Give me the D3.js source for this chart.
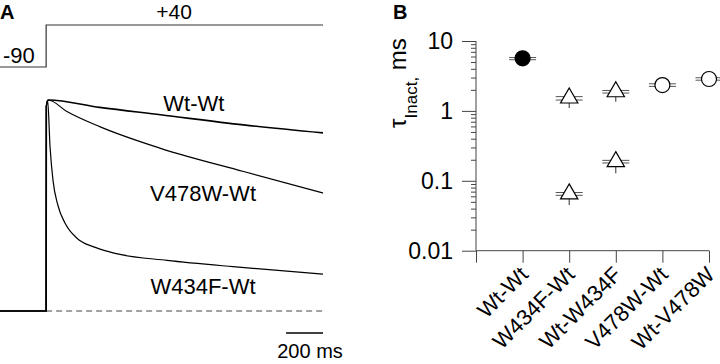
<!DOCTYPE html>
<html>
<head>
<meta charset="utf-8">
<script src="https://cdn.jsdelivr.net/npm/d3@7"></script>
<style>
  body { margin: 0; background: #fff; }
  svg { display: block; font-family: "Liberation Sans", Arial, sans-serif; }
</style>
</head>
<body>
<script>
// panel A: voltage protocol (ms, mV)
const stepTimes = [0, 250, 1750];
const stepVolts = [-90, 40];

// panel A: normalized current traces, [time ms, I/Ipeak]
const traceNames = ['Wt-Wt', 'V478W-Wt', 'W434F-Wt'];
const traceWtWt = [[0, 0], [250, 0], [251, 0.97], [262, 1.0], [540, 0.965], [870, 0.93], [1320, 0.882], [1750, 0.844]];
const traceV478W = [[0, 0], [250, 0], [251, 0.97], [262, 1.0], [360, 0.947], [540, 0.874], [870, 0.771], [1320, 0.661], [1750, 0.559]];
const traceW434F = [[0, 0], [250, 0], [251, 0.97], [258, 1.0], [271, 0.78], [287, 0.62], [314, 0.50], [352, 0.417], [417, 0.345], [504, 0.305], [542, 0.293], [650, 0.268], [905, 0.24], [1262, 0.21], [1750, 0.175]];
const traceLabelPos = [[1050, 0.95], [1100, 0.52], [1100, 0.08]]; // [time, current] of label baseline
const scaleBarMs = 200;

// panel B: inactivation time constants (ms)
const groups = ['Wt-Wt', 'W434F-Wt', 'Wt-W434F', 'V478W-Wt', 'Wt-V478W'];
const tauGroup = [0, 1, 1, 2, 2, 3, 4];
const tauValue = [5.65, 1.53, 0.065, 1.88, 0.188, 2.34, 2.86];
const tauWhiskLo = [5.4, 1.10, 0.045, 1.35, 0.128, 2.24, 2.75];
const tauWhiskHi = [5.8, 1.9, 0.085, 2.3, 0.24, 2.44, 2.98];
const tauCapLo = [5.40, 1.43, 0.062, 1.80, 0.180, 2.24, 2.75];
const tauCapHi = [5.80, 1.60, 0.068, 1.96, 0.196, 2.44, 2.98];
const tauSymbol = ['filled', 'triangle', 'triangle', 'triangle', 'triangle', 'open', 'open'];
const yTicksMajor = [0.01, 0.1, 1, 10];
const yTickLabels = ['0.01', '0.1', '1', '10'];

const width = 720, height = 364;
const svg = d3.select('body').append('svg')
    .attr('width', width)
    .attr('height', height);

// ---------- panel A ----------
const a = svg.append('g').attr('class', 'panelA');
const xTime = d3.scaleLinear().domain([0, 1750]).range([0, 323]);
const yCur = d3.scaleLinear().domain([0, 1]).range([311, 100]);
const yVolt = d3.scaleLinear().domain([-90, 40]).range([67, 25]);

a.append('text').attr('x', 0).attr('y', 19)
    .style('font-weight', 'bold').style('font-size', '20px').text('A');

const stepPts = [
    [stepTimes[0], stepVolts[0]], [stepTimes[1], stepVolts[0]],
    [stepTimes[1], stepVolts[1]], [stepTimes[2], stepVolts[1]]
];
a.append('path')
    .attr('d', d3.line().x(d => xTime(d[0])).y(d => yVolt(d[1]))(stepPts))
    .attr('fill', 'none').attr('stroke', '#333').attr('stroke-width', 1.2);
a.append('text').attr('x', 3).attr('y', 63).style('font-size', '22px').text(String(stepVolts[0]));
a.append('text').attr('x', 174).attr('y', 19).attr('text-anchor', 'middle')
    .style('font-size', '21px').text('+' + stepVolts[1]);

// zero-current dashed line
a.append('line')
    .attr('x1', xTime(stepTimes[1])).attr('x2', xTime(stepTimes[2]))
    .attr('y1', yCur(0)).attr('y2', yCur(0))
    .attr('stroke', '#444').attr('stroke-dasharray', '6,4').attr('stroke-width', 1);

const traceLine = d3.line()
    .x(d => xTime(d[0])).y(d => yCur(d[1]))
    .curve(d3.curveMonotoneX);
[traceWtWt, traceV478W, traceW434F].forEach((tr, i) => {
    a.append('path')
        .attr('d', traceLine(tr))
        .attr('fill', 'none').attr('stroke', '#000')
        .attr('stroke-width', i === 0 ? 1.6 : 1.2);
    a.append('text')
        .attr('x', xTime(traceLabelPos[i][0]))
        .attr('y', yCur(traceLabelPos[i][1]))
        .attr('text-anchor', 'middle')
        .style('font-size', '22px')
        .text(traceNames[i]);
});

// time scale bar
a.append('line')
    .attr('x1', xTime(1750 - scaleBarMs)).attr('x2', xTime(1750))
    .attr('y1', 333).attr('y2', 333)
    .attr('stroke', '#000').attr('stroke-width', 1.5);
a.append('text').attr('x', 310).attr('y', 358).attr('text-anchor', 'middle')
    .style('font-size', '20px').text(scaleBarMs + ' ms');

// ---------- panel B ----------
const b = svg.append('g').attr('class', 'panelB');
b.append('text').attr('x', 393).attr('y', 19)
    .style('font-weight', 'bold').style('font-size', '20px').text('B');

const xCat = d3.scaleLinear().domain([0, groups.length]).range([476, 709]);
const yTau = d3.scaleLog().domain([0.01, 10]).range([250.7, 41]);

const minorTicks = [];
[0.01, 0.1, 1].forEach(dec => {
    for (let k = 2; k <= 9; k++) minorTicks.push(dec * k);
});

const yMinor = b.append('g')
    .attr('transform', `translate(${xCat(0)},0)`)
    .call(d3.axisLeft(yTau).tickValues(minorTicks).tickSize(5).tickFormat(''));
const yMajor = b.append('g')
    .attr('transform', `translate(${xCat(0)},0)`)
    .call(d3.axisLeft(yTau).tickValues(yTicksMajor).tickSize(14)
        .tickFormat((d, i) => yTickLabels[i]));
[yMinor, yMajor].forEach(g => {
    g.select('.domain').remove();
    g.selectAll('line').attr('stroke', '#444');
});
yMajor.selectAll('text')
    .attr('x', -23)
    .style('font-size', '23px')
    .style('font-family', '"Liberation Sans", Arial, sans-serif')
    .attr('fill', '#000');

// axis lines
b.append('line')
    .attr('x1', xCat(0)).attr('x2', xCat(0))
    .attr('y1', yTau(10)).attr('y2', yTau(0.01))
    .attr('stroke', '#444');

const xAxis = b.append('g')
    .attr('transform', `translate(0,${yTau(0.01)})`)
    .call(d3.axisBottom(xCat).tickValues(d3.range(0, groups.length + 1)).tickSize(12).tickFormat(''));
xAxis.select('.domain').remove();
xAxis.selectAll('line').attr('stroke', '#444');
b.append('line')
    .attr('x1', xCat(0)).attr('x2', xCat(groups.length))
    .attr('y1', yTau(0.01)).attr('y2', yTau(0.01))
    .attr('stroke', '#444');

// category labels
b.selectAll('.catLabel')
    .data(groups)
    .enter().append('text')
    .attr('class', 'catLabel')
    .attr('transform', (d, i) => `translate(${xCat(i + 1) + 7},276) rotate(-45)`)
    .attr('text-anchor', 'end')
    .style('font-size', '22px')
    .text(d => d);

// y label
const yl = b.append('text')
    .attr('transform', 'translate(406,83) rotate(-90)')
    .attr('text-anchor', 'middle')
    .style('font-size', '24px');
yl.append('tspan').text('τ');
yl.append('tspan').attr('dy', 11).style('font-size', '17px').text('Inact,');
yl.append('tspan').attr('dy', -11).text(' ms');

// error bars and markers
const pts = tauValue.map((v, i) => ({
    x: xCat(tauGroup[i] + 1), v,
    lo: tauWhiskLo[i], hi: tauWhiskHi[i],
    capLo: tauCapLo[i], capHi: tauCapHi[i],
    sym: tauSymbol[i]
}));
const capHalf = 13.5;
const err = b.append('g').attr('class', 'errors');
pts.forEach(p => {
    err.append('line')
        .attr('x1', p.x).attr('x2', p.x)
        .attr('y1', yTau(p.lo)).attr('y2', yTau(p.hi))
        .attr('stroke', '#333');
    [p.capLo, p.capHi].forEach(c => {
        err.append('line')
            .attr('x1', p.x - capHalf).attr('x2', p.x + capHalf)
            .attr('y1', yTau(c)).attr('y2', yTau(c))
            .attr('stroke', '#555');
    });
});

const triangle = d3.symbol().type(d3.symbolTriangle).size(130);
b.append('g').selectAll('.marker')
    .data(pts)
    .enter().append('path')
    .attr('class', 'marker')
    .attr('transform', d => `translate(${d.x},${yTau(d.v)})`)
    .attr('d', d => d.sym === 'triangle' ? triangle() : d3.symbol().type(d3.symbolCircle).size(Math.PI * 7.5 * 7.5)())
    .attr('fill', d => d.sym === 'filled' ? '#000' : '#fff')
    .attr('stroke', '#000')
    .attr('stroke-width', 1.2);
</script>
</body>
</html>
